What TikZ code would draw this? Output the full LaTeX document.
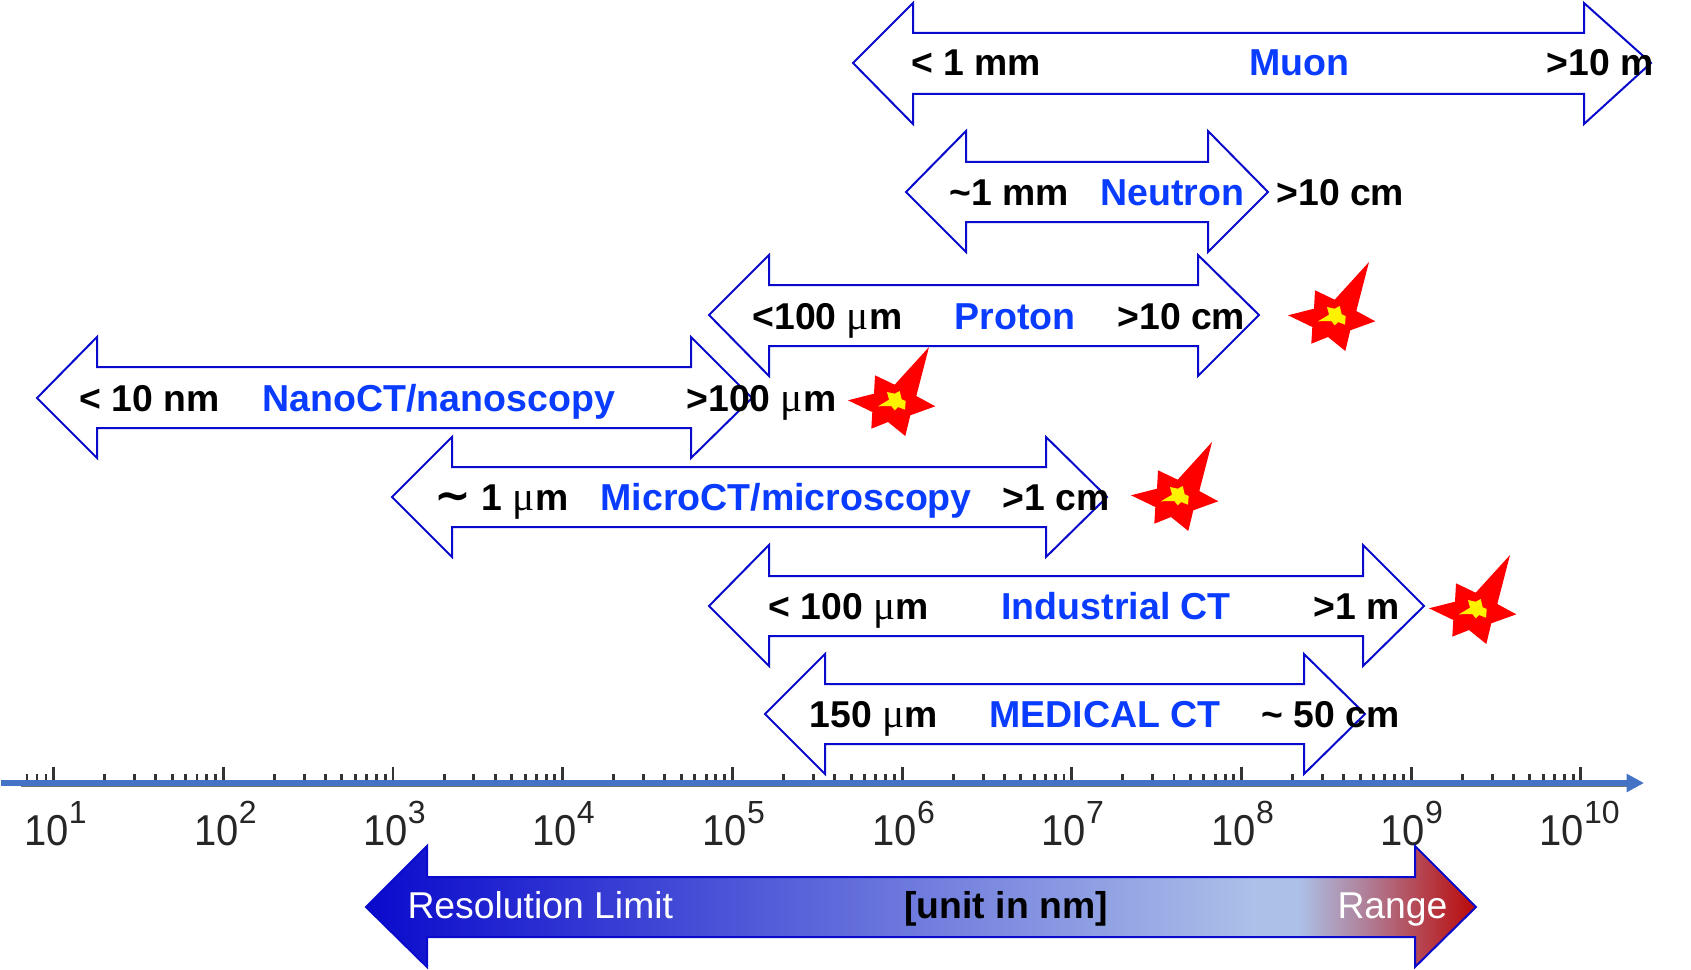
\documentclass[tikz,border=0pt]{standalone}
\usepackage{fontspec}
\setmainfont{Liberation Sans}
\newfontfamily\mufont{Liberation Serif}
\newfontfamily\simfont{DejaVu Sans}
\usetikzlibrary{arrows.meta}

\definecolor{rangeblue}{HTML}{0A0ACC}
\definecolor{labelblue}{HTML}{0A3CFF}
\definecolor{axisblue}{HTML}{4472C4}
\definecolor{shadelight}{HTML}{ACC0E8}
\definecolor{shademix}{HTML}{B08098}
\definecolor{shadered}{HTML}{BA0808}
\newcommand{\um}{{\mufont\mdseries\fontsize{31}{30}\selectfont μ}m}
\pgfdeclarehorizontalshading{rangeshade}{100bp}{color(0bp)=(rangeblue); color(25bp)=(rangeblue); color(65bp)=(shadelight); color(67bp)=(shadelight); color(70bp)=(shademix); color(75bp)=(shadered); color(100bp)=(shadered)}

\tikzset{every picture/.style={line width=0.75pt}}
\tikzset{
  rangearrow/.style={draw=rangeblue,line width=1.5pt,line join=miter},
  rangetxt/.style={anchor=base west,inner sep=0pt,font=\fontsize{28}{30}\selectfont\bfseries},
  nametxt/.style={rangetxt,text=labelblue,font=\fontsize{28.15}{30}\selectfont\bfseries},
  whitetxt/.style={anchor=base west,inner sep=0pt,text=white,font=\fontsize{28}{30}\selectfont},
  decadetxt/.style={anchor=base west,inner sep=0pt,text=black!85,font=\fontsize{30}{33}\selectfont},
  tickline/.style={draw=black!80,line width=2.2pt},
  burst/.pic={
    \begin{scope}[yscale=-1]
    \fill [red] (0,0) -- (-12.7,49) -- (6.3,59.3) -- (-18.7,68.3) -- (-23.7,89) -- (-41,75) -- (-57.7,81.7) -- (-56.7,65) -- (-81,53.3) -- (-55,46.7) -- (-54,28.3) -- (-34.3,37.7) -- cycle;
    \fill [yellow] (-51,59.3) -- (-40,52.7) -- (-42,45) -- (-34.3,46.7) -- (-29.3,44) -- (-27.3,52.3) -- (-23.3,54) -- (-24,62.7) -- (-31,60) -- (-34.3,63.3) -- (-37.7,59) -- cycle;
    \end{scope}
  }
}

\begin{document}
\begin{tikzpicture}[x=0.75pt,y=0.75pt,yscale=-1,xscale=1]
\useasboundingbox (0,0) rectangle (1691,970);

%Axis
\coordinate (axisl) at (1,783);
\coordinate (axisr) at (1644,783);
\coordinate (greyl) at (21,786.5);
\coordinate (greyr) at (1627,786.5);
\draw [black!55,line width=1pt] (greyl) -- (greyr);
\foreach \d in {0,...,9} \draw [tickline] (53.6+169.7*\d,767) -- (53.6+169.7*\d,783);
\foreach \d in {0,...,8} \foreach \m in {0.301,0.477,0.602,0.699,0.778,0.845,0.903,0.954}
  \draw [tickline] (53.6+169.7*\d+169.7*\m,774) -- (53.6+169.7*\d+169.7*\m,783);
\foreach \x in {27,37,46} \draw [tickline] (\x,774) -- (\x,783);
\draw [axisblue,line width=4.5pt,-{Triangle[length=13pt,width=13pt]}] (axisl) -- (axisr);

% Decade labels
\foreach \e/\lx in {1/24,2/194,3/363,4/532,5/702,6/872,7/1041,8/1211,9/1380,10/1539}
  \draw (\lx,845) node [decadetxt] (dec\e) {\scalebox{1}[1.08]{10}\raisebox{16pt}{\fontsize{24}{25}\selectfont\e}};

%Double arrows
\draw [rangearrow] (853,63) -- (913,3) -- (913,33) -- (1584,33) -- (1584,3) -- (1651,63) -- (1584,124) -- (1584,94) -- (913,94) -- (913,124) -- cycle;
\draw [rangearrow] (906,192) -- (966,131) -- (966,162) -- (1208,162) -- (1208,131) -- (1268,192) -- (1208,252) -- (1208,222) -- (966,222) -- (966,252) -- cycle;
\draw [rangearrow] (709,315) -- (769,255) -- (769,285) -- (1198,285) -- (1198,255) -- (1259,315) -- (1198,376) -- (1198,346) -- (769,346) -- (769,376) -- cycle;
\draw [rangearrow] (37,398) -- (97,337) -- (97,367) -- (691,367) -- (691,337) -- (752,398) -- (691,458) -- (691,428) -- (97,428) -- (97,458) -- cycle;
\draw [rangearrow] (392,497) -- (452,437) -- (452,467) -- (1046,467) -- (1046,437) -- (1107,497) -- (1046,557) -- (1046,527) -- (452,527) -- (452,557) -- cycle;
\draw [rangearrow] (709,606) -- (769,545) -- (769,576) -- (1363,576) -- (1363,545) -- (1424,606) -- (1363,666) -- (1363,636) -- (769,636) -- (769,666) -- cycle;
\draw [rangearrow] (765,714) -- (825,654) -- (825,684) -- (1304,684) -- (1304,654) -- (1365,714) -- (1304,774) -- (1304,744) -- (825,744) -- (825,774) -- cycle;
\draw [rangearrow,shading=rangeshade] (366,907) -- (427,846) -- (427,877) -- (1415,877) -- (1415,846) -- (1476,907) -- (1415,967) -- (1415,937) -- (427,937) -- (427,967) -- cycle;

%Bursts
\pic (burstproton) at (1369,262) {burst};
\pic (burstnano) at (929,347) {burst};
\pic (burstmicro) at (1212,442) {burst};
\pic (burstind) at (1510,555) {burst};

% Text Node
\draw (911,76) node [rangetxt] (muonlo) {< 1 mm};
% Text Node
\draw (1249,76) node [nametxt] (muon) {Muon};
% Text Node
\draw (1546,76) node [rangetxt] (muonhi) {>10 m};
% Text Node
\draw (949,205) node [rangetxt] (neutronlo) {\textasciitilde1 mm};
% Text Node
\draw (1100,205) node [nametxt] (neutron) {Neutron};
% Text Node
\draw (1276,205) node [rangetxt] (neutronhi) {>10 cm};
% Text Node
\draw (752,329) node [rangetxt] (protonlo) {<100 \um};
% Text Node
\draw (954,329) node [nametxt] (proton) {Proton};
% Text Node
\draw (1117,329) node [rangetxt] (protonhi) {>10 cm};
% Text Node
\draw (79,411) node [rangetxt] (nanolo) {< 10 nm};
% Text Node
\draw (262,411) node [nametxt] (nano) {NanoCT/nanoscopy};
% Text Node
\draw (686,411) node [rangetxt] (nanohi) {>100 \um};
% Text Node
\draw (434,510) node [rangetxt] (microlo) {{\simfont\fontsize{33}{30}\selectfont ∼} 1 \um};
% Text Node
\draw (600,510) node [nametxt] (micro) {MicroCT/microscopy};
% Text Node
\draw (1002,510) node [rangetxt] (microhi) {>1 cm};
% Text Node
\draw (768,619) node [rangetxt] (indlo) {< 100 \um};
% Text Node
\draw (1001,619) node [nametxt] (ind) {Industrial CT};
% Text Node
\draw (1313,619) node [rangetxt] (indhi) {>1 m};
% Text Node
\draw (809,727) node [rangetxt] (medlo) {150 \um};
% Text Node
\draw (989,727) node [nametxt] (med) {MEDICAL CT};
% Text Node
\draw (1261,727) node [rangetxt] (medhi) {\textasciitilde{} 50 cm};
% Text Node
\draw (407,918) node [whitetxt] (reslimit) {Resolution Limit};
% Text Node
\draw (904,918) node [rangetxt] (unit) {[unit in nm]};
% Text Node
\draw (1337,918) node [whitetxt] (range) {Range};

\end{tikzpicture}
\end{document}
